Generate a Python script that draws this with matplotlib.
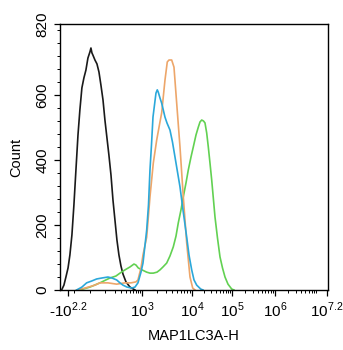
import numpy as np
import matplotlib.pyplot as plt
from matplotlib.ticker import FixedLocator, FixedFormatter, MultipleLocator

plt.rcParams['font.family'] = ['Liberation Sans', 'DejaVu Sans']
plt.rcParams['mathtext.fontset'] = 'custom'
plt.rcParams['mathtext.rm'] = 'Liberation Sans'
plt.rcParams['font.size'] = 10

# histogram outlines: fluorescence intensity vs event count
black_x = [-239, -207, -182, -158, -139, -120, -103, -87, -72, -59, -46, -33.5, -21.6, -10,
           1.6, 7.3, 13, 18.9, 30.7, 43, 55.8, 69, 84, 99, 116, 134, 155, 177, 201, 228,
           258, 292, 330, 394, 498, 667]
black_y = [0, 15, 40, 68, 108, 170, 262, 370, 478, 555, 623, 654, 678, 715, 734, 746, 731,
           724, 709, 697, 672, 632, 586, 524, 469, 416, 354, 277, 216, 154, 108, 74, 49, 25,
           9, 0]

orange_x = [-82, -27, 31, 62, 125, 224, 371, 528, 706, 792, 943, 1047, 1242, 1445, 1683,
            1968, 2291, 2477, 2884, 3206, 3467, 3926, 4365, 4943, 5754, 6699, 7834, 9120,
            10410, 11885]
orange_y = [0, 6, 15, 22, 22, 18, 22, 22, 25, 31, 68, 108, 163, 287, 391, 462, 518, 546,
            647, 703, 709, 709, 687, 576, 441, 287, 145, 40, 6, 0]

blue_x = [-82, -46, -17.5, 13, 41, 76, 125, 165, 224, 275, 330, 418, 550, 667, 792, 943,
          1047, 1242, 1349, 1445, 1549, 1660, 1905, 2023, 2118, 2291, 2477, 2884, 3162,
          3631, 4074, 4571, 5129, 5754, 6607, 7834, 8710, 9863, 11220, 13110, 16500, 18840]
blue_y = [0, 9, 22, 28, 34, 37, 40, 37, 31, 22, 15, 9, 6, 9, 22, 55, 83, 185, 262, 370,
          447, 533, 607, 617, 610, 592, 576, 533, 515, 493, 456, 410, 364, 318, 247, 163,
          108, 62, 31, 15, 3, 0]

green_x = [-59, 1.6, 62, 144, 214, 275, 371, 498, 629, 706, 807, 1000, 1242, 1445, 1683,
           1995, 2291, 2630, 3119, 3631, 4227, 4786, 5321, 6026, 6699, 7586, 8433, 9550,
           10777, 12590, 14370, 15850, 17480, 19390, 21130, 23310, 25560, 28180, 31090,
           34080, 37580, 43400, 50120, 57880, 66830, 79430, 98290, 111300]
green_y = [0, 9, 22, 37, 43, 52, 62, 71, 80, 77, 68, 62, 55, 52, 52, 55, 62, 71, 83, 105,
           133, 166, 207, 247, 287, 330, 370, 410, 441, 478, 502, 518, 524, 521, 515, 484,
           441, 391, 339, 284, 225, 160, 102, 68, 40, 18, 3, 0]

x_ticks = [-10**2.2, 1e3, 1e4, 1e5, 1e6, 10**7.2]
x_labels = [r'-$10^{2.2}$', r'$10^{3}$', r'$10^{4}$', r'$10^{5}$', r'$10^{6}$', r'$10^{7.2}$']
y_ticks = [0, 200, 400, 600, 820]

# biexponential-style display: arcsinh, stretched so the decades land where the
# acquisition software draws them
tick_pos = np.array([8, 82, 132, 172, 215, 267], float)
T = np.arcsinh(np.array(x_ticks) / 100)
s0 = (tick_pos[1] - tick_pos[0]) / (T[1] - T[0])
s1 = (tick_pos[-1] - tick_pos[-2]) / (T[-1] - T[-2])
T = np.r_[T[0] - 30, T, T[-1] + 30]
P = np.r_[tick_pos[0] - 30 * s0, tick_pos, tick_pos[-1] + 30 * s1]


def fwd(x):
    return np.interp(np.arcsinh(np.asarray(x, float) / 100), T, P)


def inv(p):
    return 100 * np.sinh(np.interp(np.asarray(p, float), P, T))


fig = plt.figure(figsize=(3.43, 3.5), dpi=100)
ax = fig.add_axes([60 / 343, 60 / 350, 268 / 343, 266 / 350])
ax.set_xscale('function', functions=(fwd, inv))

lw = 1.2
ax.plot(black_x, black_y, color='#1a1a1a', lw=lw)
ax.plot(green_x, green_y, color='#62d152', lw=lw)
ax.plot(orange_x, orange_y, color='#eda66a', lw=lw)
ax.plot(blue_x, blue_y, color='#2ba8da', lw=lw)

ax.set_xlim(inv(0), inv(268))
ax.set_ylim(0, 820)

minor_x = [-100, 0, 100, 200, 300, 400, 500, 600, 700, 800, 900]
for d in [1e3, 1e4, 1e5, 1e6]:
    minor_x += [k * d for k in range(2, 10)]
ax.xaxis.set_major_locator(FixedLocator(x_ticks))
ax.xaxis.set_major_formatter(FixedFormatter(x_labels))
ax.xaxis.set_minor_locator(FixedLocator([v for v in minor_x if v < 10**7.2]))
ax.yaxis.set_major_locator(FixedLocator(y_ticks))
ax.yaxis.set_minor_locator(MultipleLocator(40))

ax.tick_params(which='major', direction='out', length=4, width=0.9, labelsize=11)
ax.tick_params(which='minor', direction='out', length=2.5, width=0.7)
plt.setp(ax.get_yticklabels(), rotation=90, va='center')
for sp in ax.spines.values():
    sp.set_linewidth(1.0)

ax.set_xlabel('MAP1LC3A-H', fontsize=10.5, labelpad=7)
ax.set_ylabel('Count', fontsize=10.5, labelpad=9)

fig.savefig('out.png', dpi=100)
